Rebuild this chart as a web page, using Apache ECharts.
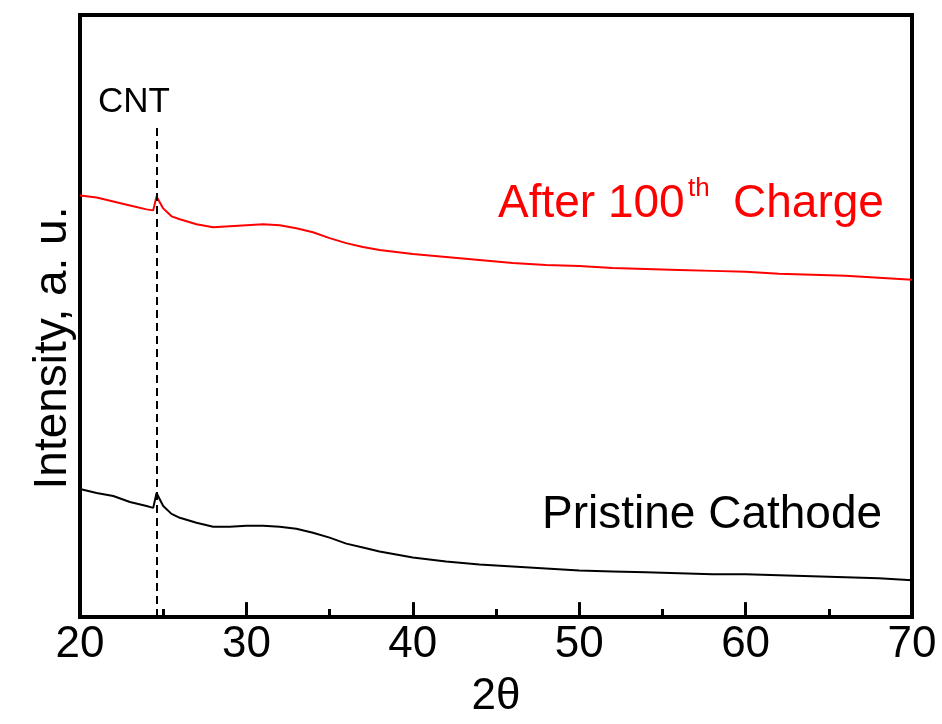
<!DOCTYPE html>
<html lang="en">
<head>
  <meta charset="UTF-8">
  <script type="text/javascript" src="https://cdn.jsdelivr.net/npm/echarts@6/dist/echarts.min.js"></script>
  <title>XRD</title>
  <style type="text/css">
    * {
      margin: 0;
      padding: 0;
    }

    html, body {
      width: 100%;
      height: 100%;
      background-color: #fff;
    }

    #chart {
      width: 942px;
      height: 724px;
    }
  </style>
</head>

<body>
<div id="chart"></div>
</body>
<script type="text/javascript">
  // 2theta positions (deg)
  var twoTheta = [20, 21, 22, 23, 24, 24.4, 24.6, 25.0, 25.5, 26, 27, 28, 29, 30, 31, 32, 33, 34, 35, 36, 37, 38, 39, 40,
    42, 44, 46, 48, 50, 52, 54, 56, 58, 60, 62, 64, 66, 68, 70]

  // intensity, a.u.
  var afterCharge = [425, 423, 419, 415, 411, 410, 424, 412, 404, 401, 396, 393, 394, 395, 396, 395, 392, 388, 382, 377,
    373, 370, 368, 366, 363, 360, 357, 355, 354, 352, 351, 350, 349, 348, 346, 345, 344, 342, 340]

  var pristine = [129, 125, 122, 116, 112, 110, 125, 112, 104, 100, 95, 91, 91, 92, 92, 91, 89, 85, 80, 74,
    70, 66, 63, 60, 56, 53, 51, 49, 47, 46, 45, 44, 43, 43, 42, 41, 40, 39, 37]

  var majorTicks = [30, 40, 50, 60]
  var cntPos = 24.6
  var cntTop = 497

  function pairs(xs, ys) {
    return xs.map(function (x, i) {
      return [x, ys[i]]
    })
  }

  var font = '"Liberation Sans", Arial, sans-serif'

  var myChart = echarts.init(document.getElementById('chart'))
  var option = {
    animation: false,
    backgroundColor: '#fff',
    grid: {
      left: 80,
      right: 30,
      top: 15,
      bottom: 102,
      show: true,
      borderColor: '#000',
      borderWidth: 4
    },
    xAxis: {
      type: 'value',
      min: 20,
      max: 70,
      interval: 10,
      name: '2θ',
      nameLocation: 'middle',
      nameGap: 58,
      nameTextStyle: {
        color: '#000',
        fontSize: 44,
        fontFamily: font
      },
      axisLine: {
        show: true,
        onZero: false,
        lineStyle: {color: '#000', width: 4}
      },
      axisTick: {
        show: true,
        inside: true,
        length: 14,
        lineStyle: {color: '#000', width: 3}
      },
      minorTick: {
        show: true,
        splitNumber: 2,
        length: 8,
        lineStyle: {color: '#000', width: 3}
      },
      splitLine: {show: false},
      axisLabel: {
        color: '#000',
        fontSize: 44,
        fontFamily: font,
        margin: 6
      }
    },
    yAxis: {
      type: 'value',
      min: 0,
      max: 607,
      axisLine: {show: true, lineStyle: {color: '#000', width: 4}},
      axisTick: {show: false},
      axisLabel: {show: false},
      splitLine: {show: false}
    },
    graphic: [
      {
        type: 'text',
        x: 53,
        y: 348,
        rotation: Math.PI / 2,
        style: {
          text: 'Intensity, a. u.',
          font: '46px ' + font,
          fill: '#000',
          align: 'center',
          verticalAlign: 'middle'
        }
      },
      {
        type: 'text',
        x: 98,
        y: 102,
        style: {
          text: 'CNT',
          font: '35px ' + font,
          fill: '#000',
          align: 'left',
          verticalAlign: 'middle'
        }
      },
      {
        type: 'text',
        x: 498,
        y: 204,
        style: {
          text: 'After 100',
          font: '46px ' + font,
          fill: '#ff0000',
          align: 'left',
          verticalAlign: 'middle'
        }
      },
      {
        type: 'text',
        x: 688,
        y: 189,
        style: {
          text: 'th',
          font: '26px ' + font,
          fill: '#ff0000',
          align: 'left',
          verticalAlign: 'middle'
        }
      },
      {
        type: 'text',
        x: 733,
        y: 204,
        style: {
          text: 'Charge',
          font: '46px ' + font,
          fill: '#ff0000',
          align: 'left',
          verticalAlign: 'middle'
        }
      },
      {
        type: 'text',
        x: 542,
        y: 515,
        style: {
          text: 'Pristine Cathode',
          font: '46px ' + font,
          fill: '#000',
          align: 'left',
          verticalAlign: 'middle'
        }
      }
    ],
    series: [
      {
        name: 'After 100th Charge',
        type: 'line',
        showSymbol: false,
        silent: true,
        lineStyle: {color: '#ff0000', width: 2},
        data: pairs(twoTheta, afterCharge)
      },
      {
        name: 'Pristine Cathode',
        type: 'line',
        showSymbol: false,
        silent: true,
        lineStyle: {color: '#000', width: 2},
        data: pairs(twoTheta, pristine),
        markLine: {
          silent: true,
          symbol: 'none',
          label: {show: false},
          lineStyle: {color: '#000', width: 2, type: [8, 5]},
          data: [[{coord: [cntPos, 0]}, {coord: [cntPos, cntTop]}]]
        }
      },
      {
        // major ticks again, as solid marks from the x scale
        name: 'ticks',
        type: 'line',
        silent: true,
        data: [],
        markLine: {
          silent: true,
          symbol: 'none',
          label: {show: false},
          lineStyle: {color: '#000', width: 3, type: 'solid'},
          data: majorTicks.map(function (v) {
            return [{coord: [v, 0]}, {coord: [v, 15]}]
          })
        }
      }
    ]
  };

  myChart.setOption(option);
</script>
</html>
